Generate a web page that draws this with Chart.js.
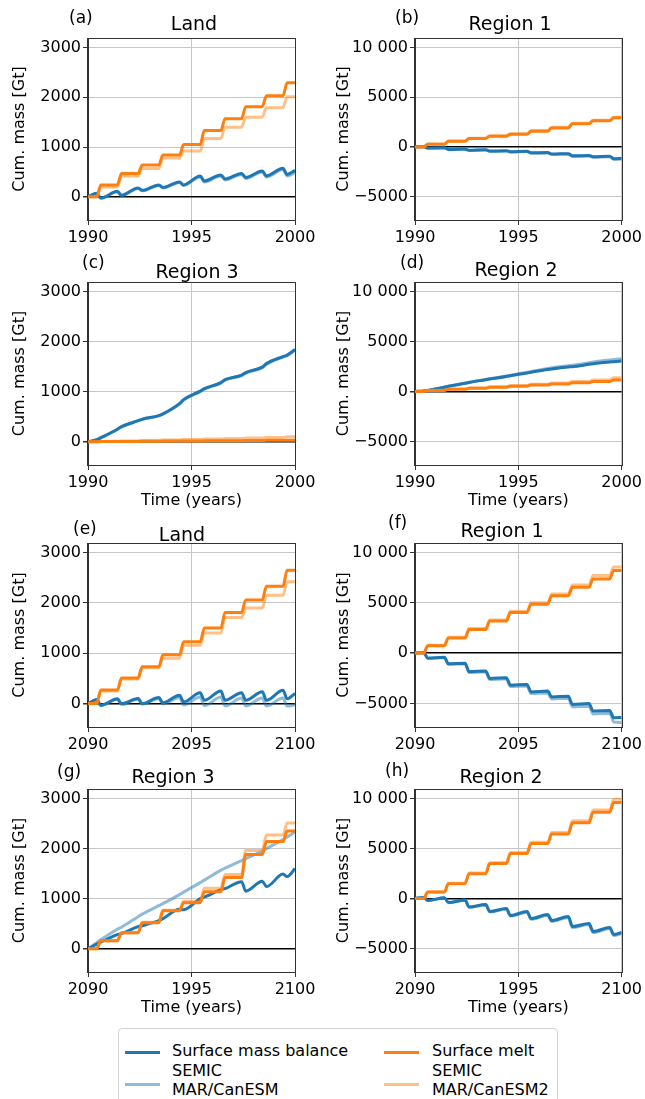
<!DOCTYPE html>
<html>
<head>
<meta charset="utf-8">
<script src="https://cdn.jsdelivr.net/npm/chart.js@4.4.0/dist/chart.umd.min.js"></script>
<style>
  html, body { margin: 0; padding: 0; background: #fff; }
  body { position: relative; width: 645px; height: 1099px; overflow: hidden; font-family: 'DejaVu Sans', sans-serif; }
  canvas { position: absolute; }
  .leg-box { position: absolute; left: 118px; top: 1028px; width: 438px; height: 90px; border: 1px solid #d4d4d4; border-radius: 4px; }
  .leg-line { position: absolute; height: 3px; width: 35px; }
  .leg-text { position: absolute; font-size: 16px; line-height: 19.5px; color: #000; white-space: nowrap; }
</style>
</head>
<body>

<div class="leg-box"></div>
<div class="leg-line" style="left:125px; top:1051px; background:#1f77b4"></div>
<div class="leg-line" style="left:125px; top:1083px; background:rgba(31,119,180,0.5)"></div>
<div class="leg-line" style="left:384px; top:1051px; background:#ff7f0e"></div>
<div class="leg-line" style="left:384px; top:1083px; background:rgba(255,127,14,0.5)"></div>
<div class="leg-text" style="left:172px; top:1041px">Surface mass balance<br>SEMIC<br>MAR/CanESM</div>
<div class="leg-text" style="left:432px; top:1041px">Surface melt<br>SEMIC<br>MAR/CanESM2</div>

<script>
'use strict';

// ── Data: cumulative mass (Gt), sampled at season turning points ──
// years since start of decade: end of winter (.42) / end of summer (.62)
const SEASON_T = [0, 0.42, 0.62, 1.42, 1.62, 2.42, 2.62, 3.42, 3.62, 4.42, 4.62,
                  5.42, 5.62, 6.42, 6.62, 7.42, 7.62, 8.42, 8.62, 9.42, 9.62, 10];

// (a) Land, 1990s
const A_SMB_SEMIC  = [0, 70, -25, 110, 30, 180, 130, 240, 190, 300, 240, 420, 320, 440, 360, 470, 390, 520, 420, 575, 450, 530];
const A_SMB_MAR    = [0, 60, -30, 100, 20, 170, 120, 230, 180, 290, 230, 400, 300, 420, 340, 450, 370, 500, 400, 550, 420, 490];
const A_MELT_SEMIC = [0, 0, 240, 240, 470, 470, 640, 640, 840, 840, 1050, 1050, 1330, 1330, 1570, 1570, 1810, 1810, 2030, 2030, 2290, 2290];
const A_MELT_MAR   = [0, 0, 200, 200, 420, 420, 570, 570, 780, 780, 920, 920, 1170, 1170, 1400, 1400, 1600, 1600, 1790, 1790, 2010, 2010];

// (b) Region 1, 1990s
const B_SMB_SEMIC  = [0, 20, -120, -80, -250, -200, -330, -290, -420, -380, -480, -430, -600, -560, -720, -680, -900, -860, -980, -940, -1180, -1150];
const B_SMB_MAR    = [0, 20, -140, -100, -280, -230, -360, -320, -460, -420, -520, -470, -650, -610, -770, -730, -960, -920, -1040, -1000, -1250, -1220];
const B_MELT_SEMIC = [0, 0, 270, 270, 570, 570, 840, 840, 1070, 1070, 1280, 1280, 1580, 1580, 1910, 1910, 2320, 2320, 2620, 2620, 2920, 2920];
const B_MELT_MAR   = [0, 0, 280, 280, 600, 600, 880, 880, 1120, 1120, 1330, 1330, 1640, 1640, 1980, 1980, 2380, 2380, 2680, 2680, 2980, 2980];

// (c) Region 3, 1990s
const C_SMB_SEMIC  = [0, 40, 80, 250, 300, 420, 450, 520, 555, 760, 840, 1010, 1060, 1180, 1240, 1330, 1380, 1490, 1560, 1700, 1730, 1840];
const C_SMB_MAR    = [0, 40, 75, 245, 295, 415, 445, 515, 550, 750, 830, 1000, 1050, 1170, 1230, 1320, 1370, 1480, 1550, 1690, 1720, 1830];
const C_MELT_SEMIC = [0, 0, 3, 3, 6, 6, 9, 9, 12, 12, 15, 15, 18, 18, 21, 21, 24, 24, 27, 27, 30, 30];
const C_MELT_MAR   = [0, 0, 8, 8, 16, 16, 25, 25, 34, 34, 43, 43, 52, 52, 62, 62, 72, 72, 84, 84, 100, 100];

// (d) Region 2, 1990s
const D_SMB_SEMIC  = [0, 60, 110, 420, 520, 820, 900, 1180, 1250, 1500, 1580, 1850, 1920, 2200, 2260, 2450, 2480, 2720, 2780, 2950, 2980, 3050];
const D_SMB_MAR    = [0, 60, 110, 430, 530, 840, 920, 1210, 1290, 1550, 1640, 1920, 2000, 2290, 2370, 2580, 2630, 2880, 2950, 3150, 3190, 3280];
const D_MELT_SEMIC = [0, 0, 110, 110, 220, 220, 320, 320, 420, 420, 530, 530, 640, 640, 760, 760, 880, 880, 1000, 1000, 1150, 1150];
const D_MELT_MAR   = [0, 0, 120, 120, 240, 240, 350, 350, 470, 470, 590, 590, 720, 720, 860, 860, 1000, 1000, 1150, 1150, 1380, 1380];

// (e) Land, 2090s
const E_SMB_SEMIC  = [0, 80, -35, 95, 0, 100, 0, 120, 15, 165, 35, 215, 65, 250, 65, 215, 65, 235, 65, 265, 95, 200];
const E_SMB_MAR    = [0, 70, -45, 85, -20, 90, -15, 100, -10, 120, -25, 130, -40, 130, -45, 110, -45, 110, -50, 110, -50, -20];
const E_MELT_SEMIC = [0, 0, 270, 270, 510, 510, 730, 730, 970, 970, 1230, 1230, 1500, 1500, 1810, 1810, 2060, 2060, 2330, 2330, 2650, 2650];
const E_MELT_MAR   = [0, 0, 250, 250, 490, 490, 710, 710, 900, 900, 1160, 1160, 1400, 1400, 1710, 1710, 1900, 1900, 2150, 2150, 2420, 2420];

// (f) Region 1, 2090s
const F_SMB_SEMIC  = [0, 50, -500, -420, -1070, -1000, -1850, -1780, -2520, -2450, -3190, -3120, -3860, -3780, -4360, -4280, -5100, -5020, -5770, -5700, -6440, -6400];
const F_SMB_MAR    = [0, 50, -520, -440, -1120, -1050, -1930, -1860, -2630, -2560, -3330, -3260, -4030, -3960, -4560, -4490, -5350, -5280, -6050, -5980, -6850, -6900];
const F_MELT_SEMIC = [0, 0, 740, 740, 1510, 1510, 2350, 2350, 3190, 3190, 4030, 4030, 4870, 4870, 5700, 5700, 6540, 6540, 7380, 7380, 8220, 8220];
const F_MELT_MAR   = [0, 0, 780, 780, 1580, 1580, 2440, 2440, 3300, 3300, 4150, 4150, 5010, 5010, 5880, 5880, 6780, 6780, 7720, 7720, 8560, 8560];

// (g) Region 3, 2090s
const G_SMB_SEMIC  = [0, 90, 130, 280, 300, 440, 460, 560, 600, 790, 780, 1000, 1030, 1180, 1200, 1340, 1150, 1350, 1240, 1490, 1440, 1600];
const G_SMB_MAR    = [0, 120, 180, 390, 430, 640, 690, 860, 900, 1080, 1130, 1320, 1370, 1570, 1610, 1760, 1800, 1950, 2000, 2180, 2230, 2330];
const G_MELT_SEMIC = [0, 0, 160, 160, 320, 320, 520, 520, 760, 760, 920, 920, 1140, 1140, 1420, 1420, 1880, 1880, 2140, 2140, 2350, 2350];
const G_MELT_MAR   = [0, 0, 160, 160, 320, 320, 530, 530, 770, 770, 950, 950, 1210, 1210, 1480, 1480, 1960, 1960, 2270, 2270, 2510, 2510];

// (h) Region 2, 2090s
const H_SMB_SEMIC  = [0, 100, -200, 80, -400, -150, -850, -600, -1300, -1000, -1700, -1300, -2000, -1600, -2200, -1800, -2800, -2500, -3300, -2900, -3600, -3400];
const H_SMB_MAR    = [0, 100, -220, 60, -430, -180, -880, -640, -1340, -1050, -1760, -1370, -2080, -1680, -2290, -1900, -2900, -2600, -3400, -3000, -3700, -3500];
const H_MELT_SEMIC = [0, 0, 640, 640, 1480, 1480, 2480, 2480, 3490, 3490, 4500, 4500, 5500, 5500, 6440, 6440, 7580, 7580, 8620, 8620, 9600, 9600];
const H_MELT_MAR   = [0, 0, 660, 660, 1530, 1530, 2550, 2550, 3580, 3580, 4610, 4610, 5630, 5630, 6600, 6600, 7770, 7770, 8860, 8860, 9930, 9930];

// ── Tick labels ──
const X_LABELS_1990   = ['1990', '1995', '2000'];
const X_LABELS_2090   = ['2090', '2095', '2100'];
const X_LABELS_2090_B = ['2090', '1995', '2100'];
const Y_TICKS_LAND    = [0, 1000, 2000, 3000];
const Y_LABELS_LAND   = ['0', '1000', '2000', '3000'];
const Y_TICKS_REGION  = [-5000, 0, 5000, 10000];
const Y_LABELS_REGION = ['\u22125000', '0', '5000', '10\u00a0000'];

// ── Styling / layout ──
const FONT = "'DejaVu Sans', sans-serif";
Chart.defaults.font.family = FONT;
Chart.defaults.color = '#000';

const COLORS = {
    smb:       '#1f77b4',
    smbLight:  'rgba(31,119,180,0.5)',
    melt:      '#ff7f0e',
    meltLight: 'rgba(255,127,14,0.5)',
    grid:      '#c6c6c6',
    spine:     '#333',
};

const HEAD = 38;   // space above each plot area (tag + title)
const FOOT = 50;   // space below each plot area (ticks + x title)

const COLS = [
    { left: 0,   width: 322, plotLeft: 88,  plotRight: 295, yTitleX: 20 },
    { left: 322, width: 323, plotLeft: 415, plotRight: 622, yTitleX: 344 },
];
const ROWS = [
    { top: 38,  bottom: 220 },
    { top: 282, bottom: 465 },
    { top: 543, bottom: 727 },
    { top: 789, bottom: 972 },
];

const LAND_RANGE   = [-465, 3190];
const REGION_RANGE = [-7350, 10950];

const PANELS = [
    { tag: '(a)', title: 'Land',     col: 0, row: 0, start: 1990, xLabels: X_LABELS_1990,   xTitle: false, land: true,
      smb: [A_SMB_SEMIC, A_SMB_MAR], melt: [A_MELT_SEMIC, A_MELT_MAR], tagAt: [69, 23],  titleAt: [194, 30] },
    { tag: '(b)', title: 'Region 1', col: 1, row: 0, start: 1990, xLabels: X_LABELS_1990,   xTitle: false, land: false,
      smb: [B_SMB_SEMIC, B_SMB_MAR], melt: [B_MELT_SEMIC, B_MELT_MAR], tagAt: [395, 23], titleAt: [510, 30] },
    { tag: '(c)', title: 'Region 3', col: 0, row: 1, start: 1990, xLabels: X_LABELS_1990,   xTitle: true,  land: true,
      smb: [C_SMB_SEMIC, C_SMB_MAR], melt: [C_MELT_SEMIC, C_MELT_MAR], tagAt: [82, 268], titleAt: [197, 278] },
    { tag: '(d)', title: 'Region 2', col: 1, row: 1, start: 1990, xLabels: X_LABELS_1990,   xTitle: true,  land: false,
      smb: [D_SMB_SEMIC, D_SMB_MAR], melt: [D_MELT_SEMIC, D_MELT_MAR], tagAt: [400, 268], titleAt: [516, 276] },
    { tag: '(e)', title: 'Land',     col: 0, row: 2, start: 2090, xLabels: X_LABELS_2090,   xTitle: false, land: true,
      smb: [E_SMB_SEMIC, E_SMB_MAR], melt: [E_MELT_SEMIC, E_MELT_MAR], tagAt: [73, 534], titleAt: [182, 541] },
    { tag: '(f)', title: 'Region 1', col: 1, row: 2, start: 2090, xLabels: X_LABELS_2090,   xTitle: false, land: false,
      smb: [F_SMB_SEMIC, F_SMB_MAR], melt: [F_MELT_SEMIC, F_MELT_MAR], tagAt: [388, 528], titleAt: [502, 537] },
    { tag: '(g)', title: 'Region 3', col: 0, row: 3, start: 2090, xLabels: X_LABELS_2090_B, xTitle: true,  land: true,
      smb: [G_SMB_SEMIC, G_SMB_MAR], melt: [G_MELT_SEMIC, G_MELT_MAR], tagAt: [57, 777],  titleAt: [173, 783] },
    { tag: '(h)', title: 'Region 2', col: 1, row: 3, start: 2090, xLabels: X_LABELS_2090_B, xTitle: true,  land: false,
      smb: [H_SMB_SEMIC, H_SMB_MAR], melt: [H_MELT_SEMIC, H_MELT_MAR], tagAt: [385, 776], titleAt: [501, 783] },
];

// panel letter + subplot title above the plot, and a closed frame round it
const panelText = {
    id: 'panelText',
    afterDraw(chart, args, opts) {
        const ctx = chart.ctx;
        const a = chart.chartArea;
        ctx.save();
        ctx.strokeStyle = COLORS.spine;
        ctx.lineWidth = 1;
        ctx.strokeRect(Math.round(a.left) - 0.5, Math.round(a.top) + 0.5,
                       Math.round(a.right - a.left) + 1, Math.round(a.bottom - a.top));
        ctx.fillStyle = '#000';
        ctx.textBaseline = 'alphabetic';
        ctx.textAlign = 'left';
        ctx.font = `17px ${FONT}`;
        ctx.fillText(opts.tag, opts.tagX, opts.tagY);
        ctx.textAlign = 'center';
        ctx.font = `19px ${FONT}`;
        ctx.fillText(opts.title, opts.titleX, opts.titleY);
        ctx.restore();
    }
};

function lineSet(label, pts, color) {
    return { label, data: pts, borderColor: color, backgroundColor: color, borderWidth: 3,
             pointRadius: 0, fill: false, tension: 0.4, cubicInterpolationMode: 'monotone' };
}

function buildPanel(p) {
    const col = COLS[p.col], row = ROWS[p.row];
    const plotH = row.bottom - row.top;
    const top = row.top - HEAD;

    const canvas = document.createElement('canvas');
    canvas.width = col.width;
    canvas.height = HEAD + plotH + FOOT;
    canvas.style.left = col.left + 'px';
    canvas.style.top = top + 'px';
    document.body.appendChild(canvas);

    const yTicks  = p.land ? Y_TICKS_LAND : Y_TICKS_REGION;
    const yLabels = p.land ? Y_LABELS_LAND : Y_LABELS_REGION;
    const range   = p.land ? LAND_RANGE : REGION_RANGE;
    const pts = arr => SEASON_T.map((t, i) => ({ x: p.start + t, y: arr[i] }));
    const isZero = c => c.tick && c.tick.value === 0;

    new Chart(canvas, {
        type: 'line',
        data: {
            datasets: [
                lineSet('Surface melt SEMIC', pts(p.melt[0]), COLORS.melt),
                lineSet('Surface melt MAR/CanESM2', pts(p.melt[1]), COLORS.meltLight),
                lineSet('Surface mass balance SEMIC', pts(p.smb[0]), COLORS.smb),
                lineSet('Surface mass balance MAR/CanESM', pts(p.smb[1]), COLORS.smbLight),
            ]
        },
        options: {
            responsive: false, animation: false, devicePixelRatio: 1,
            layout: { padding: { top: HEAD, left: 0, bottom: 0, right: col.left + col.width - col.plotRight } },
            plugins: {
                legend: { display: false },
                tooltip: { enabled: false },
                panelText: {
                    tag: p.tag, tagX: p.tagAt[0] - col.left, tagY: p.tagAt[1] - top,
                    title: p.title, titleX: p.titleAt[0] - col.left, titleY: p.titleAt[1] - top,
                }
            },
            scales: {
                x: {
                    type: 'linear', min: p.start, max: p.start + 10,
                    afterFit: s => { s.height = FOOT; },
                    ticks: { stepSize: 5, autoSkip: false, maxRotation: 0, padding: 3,
                             font: { size: 16 }, color: '#000',
                             callback: (v, i) => p.xLabels[i] },
                    grid: { color: COLORS.grid, lineWidth: 1, tickLength: 5, tickColor: COLORS.spine },
                    border: { display: true, color: COLORS.spine, width: 1 },
                    title: { display: p.xTitle, text: 'Time (years)', font: { size: 16 }, color: '#000',
                             padding: { top: 0, bottom: 5 } },
                },
                y: {
                    min: range[0], max: range[1],
                    afterFit: s => { s.width = col.plotLeft - col.left; },
                    afterBuildTicks: s => { s.ticks = yTicks.map(v => ({ value: v })); },
                    ticks: { padding: 2, font: { size: 16 }, color: '#000',
                             callback: v => yLabels[yTicks.indexOf(v)] },
                    grid: { color: c => isZero(c) ? '#000' : COLORS.grid,
                            lineWidth: c => isZero(c) ? 1.5 : 1,
                            tickLength: 5, tickColor: COLORS.spine },
                    border: { display: true, color: COLORS.spine, width: 1 },
                    title: { display: true, text: 'Cum. mass [Gt]', font: { size: 16 }, color: '#000',
                             padding: { top: col.yTitleX - col.left - 9.6, bottom: 0 } },
                }
            }
        },
        plugins: [panelText]
    });
}

PANELS.forEach(buildPanel);
</script>
</body>
</html>
